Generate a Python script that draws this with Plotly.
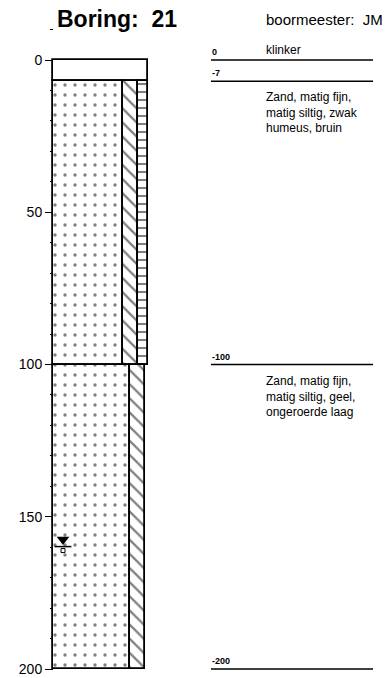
import plotly.graph_objects as go

# ---- data ----
layer_tops = [0, 7, 100]
layer_bottoms = [7, 100, 200]
layer_labels = ["0", "-7", "-100"]
end_label = "-200"
descriptions = ["klinker",
                "Zand, matig fijn,<br>matig siltig, zwak<br>humeus, bruin",
                "Zand, matig fijn,<br>matig siltig, geel,<br>ongeroerde laag"]
# column segments per layer: (left, right, pattern)
segments = [
    [(53, 148, "")],
    [(53, 123, "."), (123, 138, "\\"), (138, 148, "-")],
    [(53, 130, "."), (130, 145, "\\")],
]
water_level = 157.5
boring_nr = "21"
boormeester = "JM"
depth_ticks = [0, 50, 100, 150, 200]

# ---- geometry ----
W, H = 387, 678
y0_px, y200_px = 60, 669
ppu = (y200_px - y0_px) / 200.0
yr_top = -y0_px / ppu
yr_bot = (H - y0_px) / ppu

FONT = "Liberation Sans, Arial, sans-serif"
fig = go.Figure()

pat_cfg = {
    ".": dict(size=10, solidity=0.09),
    "\\": dict(size=10, solidity=0.22),
    "-": dict(size=8, solidity=0.25),
    "": dict(size=8, solidity=0.2),
}
for top, bot, segs in zip(layer_tops, layer_bottoms, segments):
    for (l, r, shp) in segs:
        cfg = pat_cfg[shp]
        fig.add_trace(go.Bar(
            x=[(l + r) / 2], width=[r - l], base=[top], y=[bot - top],
            marker=dict(color="white",
                        line=dict(color="black", width=1.8),
                        pattern=dict(shape=shp, fgcolor="black", bgcolor="white",
                                     size=cfg["size"], solidity=cfg["solidity"])),
            hoverinfo="skip", showlegend=False))

# water level symbol
fig.add_trace(go.Scatter(x=[63], y=[water_level], mode="markers",
                         marker=dict(symbol="triangle-down", size=11, color="black"),
                         showlegend=False, hoverinfo="skip"))
fig.add_trace(go.Scatter(x=[63], y=[water_level + 2.3], mode="markers",
                         marker=dict(symbol="line-ew", size=12, line=dict(color="black", width=1.5)),
                         showlegend=False, hoverinfo="skip"))
fig.add_trace(go.Scatter(x=[63], y=[water_level + 3.6], mode="markers",
                         marker=dict(symbol="square-open", size=4, color="black", line=dict(width=1)),
                         showlegend=False, hoverinfo="skip"))

# right-hand annotation lines and labels
boundaries = layer_tops + [layer_bottoms[-1]]
labels = layer_labels + [end_label]
for d, lab in zip(boundaries, labels):
    fig.add_shape(type="line", x0=211, x1=373, y0=d, y1=d,
                  line=dict(color="black", width=1.5), layer="above")
    fig.add_annotation(x=210, y=d, text="<b>%s</b>" % lab, showarrow=False,
                       xanchor="left", yanchor="bottom", yshift=1,
                       font=dict(size=9, color="black", family=FONT))

desc_y = [0, 7, 100]
for d, txt, i in zip(desc_y, descriptions, range(3)):
    if i == 0:
        fig.add_annotation(x=264, y=d, text=txt, showarrow=False, xanchor="left",
                           yanchor="bottom", yshift=1,
                           font=dict(size=12, color="black", family=FONT))
    else:
        fig.add_annotation(x=264, y=d, text=txt, showarrow=False, xanchor="left",
                           yanchor="top", yshift=-7, align="left",
                           font=dict(size=12, color="black", family=FONT))

fig.add_annotation(x=117, y=yr_top, text="<b>Boring:\u00a0 %s</b>" % boring_nr, showarrow=False,
                   xanchor="center", yanchor="top", yshift=-4,
                   font=dict(size=23, color="black", family=FONT))
fig.add_annotation(x=385, y=yr_top, text="boormeester:\u00a0 %s" % boormeester, showarrow=False,
                   xanchor="right", yanchor="top", yshift=-9,
                   font=dict(size=15, color="black", family=FONT))

fig.update_layout(
    width=W, height=H, margin=dict(l=0, r=0, t=0, b=0),
    paper_bgcolor="white", plot_bgcolor="white",
    barmode="overlay", bargap=0,
    xaxis=dict(range=[0, W], visible=False, fixedrange=True),
    yaxis=dict(range=[yr_bot, yr_top], anchor="free", position=53 / W,
               tickvals=depth_ticks, ticks="outside", ticklen=8, tickwidth=1.2,
               tickcolor="black", showgrid=False, zeroline=False, showline=False,
               tickfont=dict(size=14, color="black", family=FONT),
               minor=dict(dtick=10, ticks="outside", ticklen=3, tickcolor="black",
                          showgrid=False, tick0=0),
               fixedrange=True),
)
fig.write_html("out.html", config={"displayModeBar": False},
               post_script="document.body.style.margin='0';document.body.style.overflow='hidden';")
